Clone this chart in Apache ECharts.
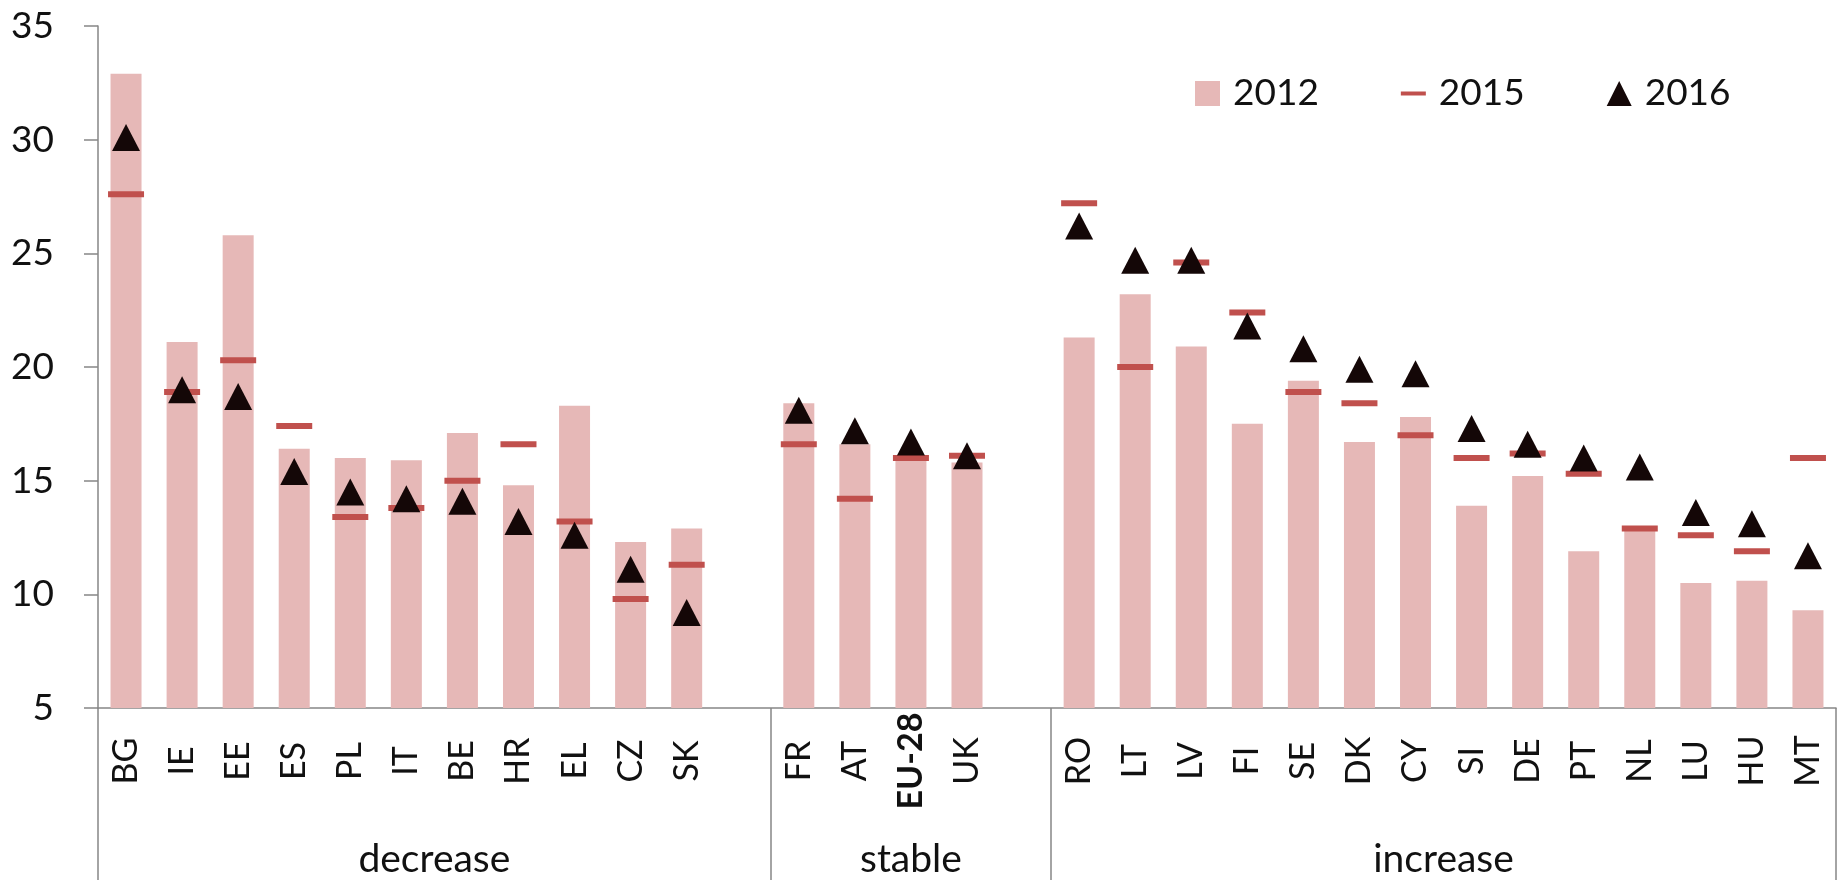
<!DOCTYPE html>
<html>
<head>
<meta charset="utf-8">
<script src="https://cdn.jsdelivr.net/npm/echarts@6/dist/echarts.min.js"></script>
<style>
html,body{margin:0;padding:0;background:#fff;}
#c{width:1841px;height:880px;}
</style>
</head>
<body>
<div id="c"></div>
<script>
// ---- data ----
const countries = ['BG','IE','EE','ES','PL','IT','BE','HR','EL','CZ','SK',' ',
                   'FR','AT','EU-28','UK','  ',
                   'RO','LT','LV','FI','SE','DK','CY','SI','DE','PT','NL','LU','HU','MT'];
const groupNames = ['decrease','stable','increase'];
const groupSizes = [12, 5, 14];   // number of category slots per group (incl. spacer)
const values2012 = [32.9,21.1,25.8,16.4,16.0,15.9,17.1,14.8,18.3,12.3,12.9,null,
                    18.4,16.6,16.1,15.8,null,
                    21.3,23.2,20.9,17.5,19.4,16.7,17.8,13.9,15.2,11.9,12.9,10.5,10.6,9.3];
const values2015 = [27.6,18.9,20.3,17.4,13.4,13.8,15.0,16.6,13.2,9.8,11.3,null,
                    16.6,14.2,16.0,16.1,null,
                    27.2,20.0,24.6,22.4,18.9,18.4,17.0,16.0,16.2,15.3,12.9,12.6,11.9,16.0];
const values2016 = [30.1,19.0,18.7,15.4,14.5,14.2,14.1,13.2,12.6,11.1,9.2,null,
                    18.1,17.2,16.7,16.1,null,
                    26.2,24.7,24.7,21.8,20.8,19.9,19.7,17.3,16.6,16.0,15.6,13.6,13.1,11.7];
const yTicks = [5,10,15,20,25,30,35];

// derived group boundaries/centres on a 0..N slot scale
const groupBounds = [0];
groupSizes.forEach(s => groupBounds.push(groupBounds[groupBounds.length-1] + s));
const groupCenters = groupSizes.map((s,i) => (groupBounds[i] + groupBounds[i+1]) / 2);

const FONT = 'Lato, "Open Sans", "DejaVu Sans", sans-serif';
const AXIS = '#868686';
const TXT = '#111111';

const chart = echarts.init(document.getElementById('c'), null, {renderer:'canvas'});
chart.setOption({
  animation: false,
  textStyle: {fontFamily: FONT},
  grid: {left: 98, right: 5, top: 26, bottom: 172, containLabel: false},
  legend: {
    top: 70, left: 1190,
    itemWidth: 25, itemHeight: 25, itemGap: 82,
    textStyle: {fontSize: 37, color: TXT, fontFamily: FONT, padding: [0,0,0,8]},
    data: [
      {name: '2012', icon: 'rect'},
      {name: '2015', icon: 'path://M0,0H25V4H0Z'},
      {name: '2016', icon: 'triangle'}
    ]
  },
  xAxis: [
    {
      type: 'category',
      data: countries,
      position: 'bottom',
      axisLine: {onZero: false, lineStyle: {color: AXIS, width: 1.5}},
      axisTick: {interval: 0, length: 94, lineStyle: {color: AXIS, width: 1.5}},
      axisLabel: {
        interval: 0, rotate: 90, align: 'center', verticalAlign: 'middle',
        margin: 53, fontSize: 34, color: TXT, fontFamily: FONT,
        formatter: v => v === 'EU-28' ? '{b|EU-28}' : v,
        rich: {b: {fontWeight: 'bold', fontSize: 34, color: TXT, fontFamily: FONT}}
      }
    },
    {
      type: 'value',
      min: groupBounds[0], max: groupBounds[groupBounds.length-1],
      position: 'bottom',
      axisLine: {show: false},
      splitLine: {show: false},
      axisTick: {show: true, customValues: groupBounds, length: 172, lineStyle: {color: AXIS, width: 1.5}},
      axisLabel: {
        customValues: groupCenters,
        formatter: v => groupNames[groupCenters.indexOf(v)] || '',
        margin: 132, fontSize: 39, color: TXT, fontFamily: FONT
      }
    }
  ],
  yAxis: {
    type: 'value', min: yTicks[0], max: yTicks[yTicks.length-1], interval: 5,
    axisLine: {show: true, lineStyle: {color: AXIS, width: 1.5}},
    axisTick: {show: true, length: 14, lineStyle: {color: AXIS, width: 1.5}},
    splitLine: {show: false},
    axisLabel: {fontSize: 37, color: TXT, margin: 44, fontFamily: FONT}
  },
  series: [
    {
      name: '2012', type: 'bar', data: values2012, barWidth: 31, clip: true,
      itemStyle: {color: '#E6B8B7', opacity: 1}, z: 2
    },
    {
      name: '2015', type: 'scatter', data: values2015,
      symbol: 'rect', symbolSize: [36, 6],
      itemStyle: {color: '#C0504D', opacity: 1}, z: 3
    },
    {
      name: '2016', type: 'scatter', data: values2016,
      symbol: 'triangle', symbolSize: [28, 27],
      itemStyle: {color: '#140707', opacity: 1}, z: 4
    }
  ]
});
</script>
</body>
</html>
